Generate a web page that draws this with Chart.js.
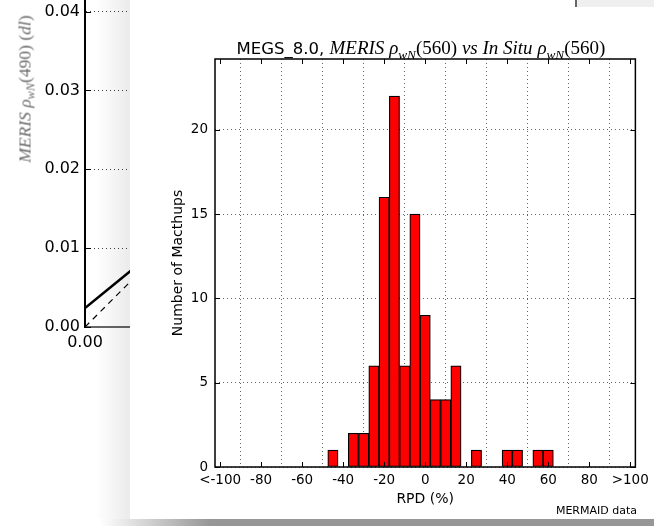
<!DOCTYPE html>
<html><head><meta charset="utf-8">
<script src="https://cdn.jsdelivr.net/npm/chart.js@4"></script>
<style>
html,body{margin:0;padding:0;background:#fff;}
body{width:654px;height:526px;position:relative;overflow:hidden;font-family:"DejaVu Sans",sans-serif;}
.abs{position:absolute;}
#bgWrap{left:0;top:-40px;width:300px;height:397px;}
#bgYLabel{left:25px;top:89px;transform:translate(-50%,-50%) rotate(-90deg);white-space:nowrap;font-family:"Liberation Serif",serif;font-size:17.5px;color:#6a6a6a;}
#leftShadow{left:95px;top:0;width:35px;height:519px;background:linear-gradient(to right,rgba(0,0,0,0),rgba(0,0,0,0.08));}
#card{left:130px;top:0;width:524px;height:519px;background:#fff;}
#bottomShadow{left:100px;top:519px;width:554px;height:7px;background:linear-gradient(to right,rgba(150,150,150,0),#969696 110px);}
#topLine{left:575px;top:0;width:2px;height:7px;background:#666;}
#topBox{left:577px;top:0;width:77px;height:7px;background:#efefef;}
#histWrap{left:130px;top:0;width:524px;height:519px;}
#title{left:421px;top:48px;transform:translate(-50%,-50%);white-space:nowrap;color:#000;}
#title .s{font-family:"DejaVu Sans",sans-serif;font-size:16.5px;}
#title .m{font-family:"Liberation Serif",serif;font-size:19px;}
sub{font-size:0.7em;vertical-align:-0.35em;line-height:0;}
#credit{right:17px;top:504px;font-size:11px;color:#000;white-space:nowrap;}
</style></head>
<body>
<div id="bgWrap" class="abs"><canvas id="bg" width="300" height="397"></canvas></div>
<div id="bgYLabel" class="abs"><i>MERIS</i> <i>ρ</i><sub><i>wN</i></sub>(490) (<i>dl</i>)</div>
<div id="leftShadow" class="abs"></div>
<div id="card" class="abs"></div>
<div id="bottomShadow" class="abs"></div>
<div id="topLine" class="abs"></div>
<div id="topBox" class="abs"></div>
<div id="histWrap" class="abs"><canvas id="hist" width="524" height="519"></canvas></div>
<div id="title" class="abs"><span class="s">MEGS_8.0, </span><span class="m"><i>MERIS</i> <i>ρ</i><sub><i>wN</i></sub>(560) <i>vs</i> <i>In</i> <i>Situ</i> <i>ρ</i><sub><i>wN</i></sub>(560)</span></div>
<div id="credit" class="abs">MERMAID data</div>
<script>
// ---- histogram data ----
const rpdBins = [-45, -35, -30, -25, -20, -15, -10, -5, 0, 5, 10, 15, 25, 40, 45, 55, 60];
const matchups = [1, 2, 2, 6, 16, 22, 6, 15, 9, 4, 4, 6, 1, 1, 1, 1, 1];
const xTickValues = [-100, -80, -60, -40, -20, 0, 20, 40, 60, 80, 100];
const xTickLabels = ['<-100', '-80', '-60', '-40', '-20', '0', '20', '40', '60', '80', '>100'];
const yTickValues = [0, 5, 10, 15, 20];

// ---- background (partially hidden) scatter-plot data ----
const bgYTicks = [0, 0.01, 0.02, 0.03, 0.04];
const bgXTicks = [0, 0.01, 0.02];
const fitLineX = [0, 0.006];
const fitLineY = [0.0024, 0.0073];
const oneToOneX = [0, 0.006];
const oneToOneY = [0, 0.006];

const FONT = '"DejaVu Sans", sans-serif';

const frameTicks = {
  id: 'frameTicks',
  afterDraw(chart, args, opts) {
    const {ctx, chartArea: a, scales} = chart;
    const L = opts.len || 5;
    ctx.save();
    ctx.strokeStyle = '#000';
    ctx.lineWidth = 1;
    ctx.beginPath();
    scales.x.ticks.forEach(t => {
      const px = Math.round(scales.x.getPixelForValue(t.value)) + 0.5;
      ctx.moveTo(px, a.bottom); ctx.lineTo(px, a.bottom - L);
      ctx.moveTo(px, a.top); ctx.lineTo(px, a.top + L);
    });
    scales.y.ticks.forEach(t => {
      const py = Math.round(scales.y.getPixelForValue(t.value)) + 0.5;
      ctx.moveTo(a.left, py); ctx.lineTo(a.left + L, py);
      ctx.moveTo(a.right, py); ctx.lineTo(a.right - L, py);
    });
    ctx.stroke();
    if (opts.frame) {
      ctx.lineWidth = 1.5;
      ctx.strokeRect(a.left, a.top, a.right - a.left, a.bottom - a.top);
    }
    ctx.restore();
  }
};

// ---- background chart ----
new Chart(document.getElementById('bg'), {
  type: 'scatter',
  data: {
    datasets: [
      {data: fitLineX.map((x, i) => ({x, y: fitLineY[i]})), showLine: true, borderColor: '#000', borderWidth: 2.5, pointRadius: 0},
      {data: oneToOneX.map((x, i) => ({x, y: oneToOneY[i]})), showLine: true, borderColor: '#000', borderWidth: 1.2, borderDash: [6, 5], pointRadius: 0}
    ]
  },
  options: {
    responsive: false, animation: false, events: [],
    layout: {padding: {top: 20, left: 0, right: 0, bottom: 0}},
    plugins: {legend: {display: false}, tooltip: {enabled: false}, frameTicks: {len: 6, frame: false}},
    scales: {
      x: {
        type: 'linear', min: 0, max: 0.02726,
        afterBuildTicks: s => { s.ticks = bgXTicks.map(v => ({value: v})); },
        afterFit: s => { s.height = 30; },
        grid: {display: false},
        border: {display: true, color: '#666', width: 2},
        ticks: {font: {family: FONT, size: 16}, color: '#000', padding: -2, maxRotation: 0,
          callback: v => v.toFixed(2)}
      },
      y: {
        type: 'linear', min: 0, max: 0.044,
        afterBuildTicks: s => { s.ticks = bgYTicks.map(v => ({value: v})); },
        afterFit: s => { s.width = 85; },
        grid: {color: 'rgba(0,0,0,0.75)', lineWidth: 1, drawTicks: false},
        border: {display: true, color: '#000', width: 2, dash: [1, 3]},
        ticks: {font: {family: FONT, size: 16}, color: '#000', padding: 5,
          callback: v => v.toFixed(2)}
      }
    }
  },
  plugins: [frameTicks]
});

// ---- histogram ----
new Chart(document.getElementById('hist'), {
  type: 'bar',
  data: {
    datasets: [{
      data: rpdBins.map((x, i) => ({x, y: matchups[i]})),
      backgroundColor: '#ff0000',
      borderColor: '#000',
      borderWidth: 1.2,
      borderSkipped: false,
      barPercentage: 1,
      categoryPercentage: 1
    }]
  },
  options: {
    responsive: false, animation: false, events: [],
    layout: {padding: {top: 59, left: 0, right: 17, bottom: 0}},
    plugins: {legend: {display: false}, tooltip: {enabled: false}, frameTicks: {len: 5, frame: true}},
    scales: {
      x: {
        type: 'linear', min: -102.5, max: 102.5, offset: false,
        afterBuildTicks: s => { s.ticks = xTickValues.map(v => ({value: v})); },
        afterFit: s => { s.height = 52; },
        grid: {color: 'rgba(0,0,0,0.6)', lineWidth: 1, drawTicks: false},
        border: {display: false, dash: [1, 3]},
        ticks: {font: {family: FONT, size: 13.5}, color: '#000', padding: 5, maxRotation: 0, autoSkip: false,
          callback: (v) => xTickLabels[xTickValues.indexOf(v)]},
        title: {display: true, text: 'RPD (%)', font: {family: FONT, size: 14}, color: '#000', padding: {top: 0, bottom: 11}}
      },
      y: {
        type: 'linear', min: 0, max: 24.2,
        afterBuildTicks: s => { s.ticks = yTickValues.map(v => ({value: v})); },
        afterFit: s => { s.width = 85; },
        grid: {color: 'rgba(0,0,0,0.6)', lineWidth: 1, drawTicks: false},
        border: {display: false, dash: [1, 3]},
        ticks: {font: {family: FONT, size: 13.5}, color: '#000', padding: 7},
        title: {display: true, text: 'Number of Macthups', font: {family: FONT, size: 14}, color: '#000', padding: {top: 40, bottom: 0}}
      }
    }
  },
  plugins: [frameTicks]
});
</script>
</body></html>
